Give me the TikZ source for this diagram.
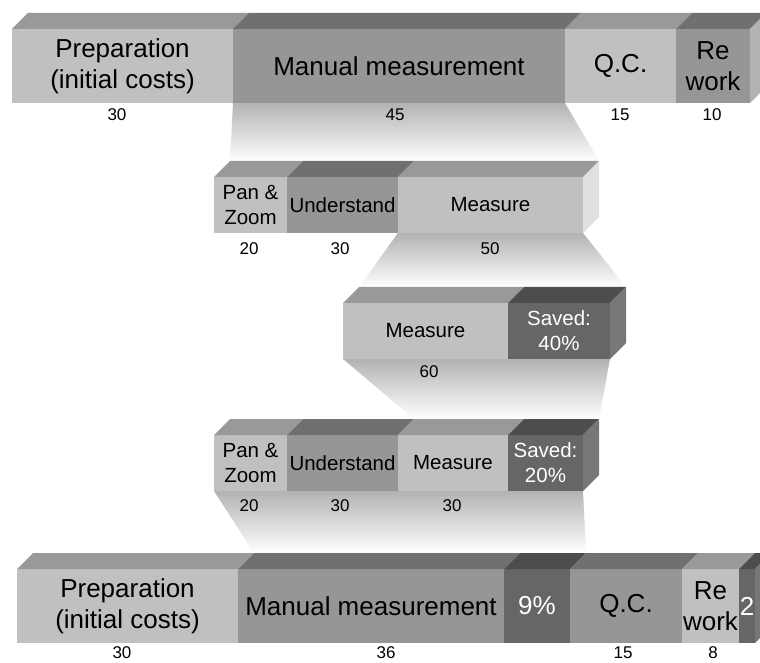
\documentclass[tikz,border=0pt]{standalone}
\usepackage{fontspec}
\setmainfont{Liberation Sans}

\definecolor{liteF}{HTML}{C0C0C0}
\definecolor{liteT}{HTML}{999999}
\definecolor{liteS}{HTML}{E0E0E0}
\definecolor{midF}{HTML}{969696}
\definecolor{midT}{HTML}{707070}
\definecolor{midS}{HTML}{B2B2B2}
\definecolor{darkF}{HTML}{666666}
\definecolor{darkT}{HTML}{4D4D4D}
\definecolor{darkS}{HTML}{777777}

\pgfdeclarelayer{funnel}
\pgfsetlayers{funnel,main}

\begin{document}
\begin{tikzpicture}[x = 1pt, y = 1pt,
  seg/.style = {inner sep=0pt, outer sep=0pt, anchor=south west, align=center},
  lite/.style = {seg, fill=liteF},
  mid/.style = {seg, fill=midF},
  dark/.style = {seg, fill=darkF, text=white},
  tall/.style = {minimum height=74pt, font=\fontsize{26}{31}\selectfont},
  low/.style = {minimum height=56pt, font=\fontsize{20.5}{25}\selectfont},
  num/.style = {inner sep=0pt, font=\fontsize{17}{20}\selectfont},]

\clip (0,0) rectangle (760,662);

% total
\node[lite, tall, minimum width=221pt] (prep1) at (12,559) {Preparation\\(initial costs)};
\node[mid, tall, minimum width=332pt] (mm1) at (233,559) {Manual measurement};
\node[lite, tall, minimum width=111pt] (qc1) at (565,559) {Q.C.};
\node[mid, tall, minimum width=74pt] (rw1) at (676,559) {Re\\work};
\node[num] (prep1n) at (117,547) {30};
\node[num] (mm1n) at (395,547) {45};
\node[num] (qc1n) at (620,547) {15};
\node[num] (rw1n) at (712,547) {10};

% manual measurement
\node[lite, low, minimum width=73pt] (pz2) at (214,429) {Pan \&\\Zoom};
\node[mid, low, minimum width=111pt] (un2) at (287,429) {Understand};
\node[lite, low, minimum width=185pt] (me2) at (398,429) {Measure};
\node[num] (pz2n) at (249,413) {20};
\node[num] (un2n) at (340,413) {30};
\node[num] (me2n) at (490,413) {50};

% measure
\node[lite, low, minimum width=165pt] (me3) at (343,303) {Measure};
\node[dark, low, minimum width=102pt] (sv3) at (508,303) {Saved:\\40\%};
\node[num] (me3n) at (429,290) {60};

% new manual measurement
\node[lite, low, minimum width=73pt] (pz4) at (214,171) {Pan \&\\Zoom};
\node[mid, low, minimum width=111pt] (un4) at (287,171) {Understand};
\node[lite, low, minimum width=110pt] (me4) at (398,171) {Measure};
\node[dark, low, minimum width=75pt] (sv4) at (508,171) {Saved:\\20\%};
\node[num] (pz4n) at (249,156) {20};
\node[num] (un4n) at (340,156) {30};
\node[num] (me4n) at (452,156) {30};

% new total
\node[lite, tall, minimum width=221pt] (prep5) at (17,19) {Preparation\\(initial costs)};
\node[mid, tall, minimum width=266pt] (mm5) at (238,19) {Manual measurement};
\node[dark, tall, minimum width=66pt] (pc5) at (504,19) {9\%};
\node[mid, tall, minimum width=112pt] (qc5) at (570,19) {Q.C.};
\node[lite, tall, minimum width=57pt] (rw5) at (682,19) {Re\\work};
\node[dark, tall, minimum width=16pt] (two5) at (739,19) {2};
\node[num] (prep5n) at (122,9) {30};
\node[num] (mm5n) at (386,9) {36};
\node[num] (qc5n) at (623,9) {15};
\node[num] (rw5n) at (713,9) {8};

% top faces
\foreach \n/\c in {prep1/liteT, mm1/midT, qc1/liteT, rw1/midT,
                   pz2/liteT, un2/midT, me2/liteT,
                   me3/liteT, sv3/darkT,
                   pz4/liteT, un4/midT, me4/liteT, sv4/darkT,
                   prep5/liteT, mm5/midT, pc5/darkT, qc5/midT, rw5/liteT, two5/darkT}
  \fill[\c] (\n.north west) -- ([shift={(16,16)}]\n.north west)
    -- ([shift={(16,16)}]\n.north east) -- (\n.north east) -- cycle;

% side faces
\foreach \n/\c in {rw1/midS, me2/liteS, sv3/darkS, sv4/darkS, two5/darkS}
  \fill[\c] (\n.south east) -- (\n.north east) -- ([shift={(16,16)}]\n.north east)
    -- ([shift={(16,16)}]\n.south east) -- cycle;

% zoom funnels
\begin{pgfonlayer}{funnel}
\shade[top color=black!30, bottom color=white] (mm1.south west) -- (mm1.south east)
  -- ([shift={(16,16)}]me2.north east) -- ([shift={(16,16)}]pz2.north west) -- cycle;
\shade[top color=black!30, bottom color=white] (me2.south west) -- (me2.south east)
  -- ([shift={(16,16)}]sv3.north east) -- ([shift={(16,16)}]me3.north west) -- cycle;
\shade[top color=black!30, bottom color=white] (me3.south west) -- (sv3.south east)
  -- ([shift={(16,16)}]sv4.north east) -- ([shift={(16,16)}]me4.north west) -- cycle;
\shade[top color=black!30, bottom color=white] (pz4.south west) -- (sv4.south east)
  -- ([shift={(16,16)}]pc5.north east) -- ([shift={(16,16)}]mm5.north west) -- cycle;
\end{pgfonlayer}

\end{tikzpicture}
\end{document}
